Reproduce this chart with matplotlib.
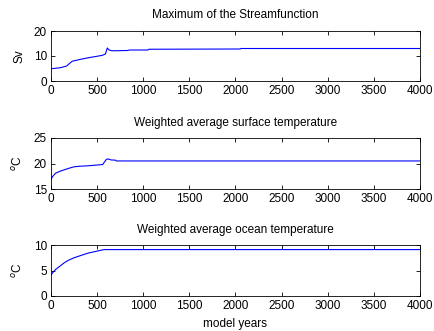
import numpy as np
from matplotlib import pyplot as plt

plt.rcParams['font.family'] = ['Liberation Sans', 'DejaVu Sans']

# maximum of the streamfunction (Sv)
psi_years = [0, 30, 100, 170, 200, 230, 300, 350, 420, 500, 560, 590, 600, 610, 630, 660, 700, 830, 850, 1050, 1060, 2050, 2060, 4000]
psi_vals = [5.0, 5.0, 5.3, 6.0, 7.0, 7.9, 8.5, 8.9, 9.4, 9.9, 10.3, 10.8, 12.0, 13.2, 12.4, 12.1, 12.1, 12.2, 12.4, 12.4, 12.7, 12.8, 13.0, 13.0]

# weighted average surface temperature (C)
sst_years = [0, 20, 50, 100, 150, 200, 250, 300, 400, 500, 560, 580, 600, 620, 650, 700, 710, 4000]
sst_vals = [16.9, 17.5, 18.1, 18.5, 18.8, 19.1, 19.35, 19.45, 19.55, 19.7, 19.8, 20.3, 20.8, 20.9, 20.7, 20.65, 20.5, 20.5]

# weighted average ocean temperature (C)
ocn_years = [0, 20, 50, 100, 150, 200, 250, 300, 400, 500, 560, 580, 4000]
ocn_vals = [4.1, 4.6, 5.2, 5.9, 6.6, 7.1, 7.5, 7.8, 8.4, 8.8, 9.05, 9.1, 9.1]

titles = ["Maximum of the Streamfunction",
          "Weighted average surface temperature",
          "Weighted average ocean temperature"]
ylabels = ["Sv", "$^o$C", "$^o$C"]
ylims = [(0, 20), (15, 25), (0, 10)]
yticks = [[0, 10, 20], [15, 20, 25], [0, 5, 10]]
xticks = [0, 500, 1000, 1500, 2000, 2500, 3000, 3500, 4000]

fig = plt.figure(figsize=(4.35, 3.31), dpi=100)
W, H = 435, 331
boxes = [(31, 81), (138, 189), (245, 296)]
data = [(psi_years, psi_vals), (sst_years, sst_vals), (ocn_years, ocn_vals)]

for i in range(3):
    top, bot = boxes[i]
    ax = fig.add_axes([51 / W, 1 - bot / H, (420 - 51) / W, (bot - top) / H])
    x, y = data[i]
    ax.plot(x, y, color='blue', lw=0.8)
    ax.set_xlim(0, 4000)
    ax.set_ylim(*ylims[i])
    ax.set_xticks(xticks)
    ax.set_yticks(yticks[i])
    ax.tick_params(direction='in', top=True, right=True, labelsize=8.5, length=3, width=0.6, pad=3)
    for s in ax.spines.values():
        s.set_linewidth(0.6)
    ax.set_title(titles[i], fontsize=8.5, pad=9)
    ax.set_ylabel(ylabels[i], fontsize=8.5, labelpad=6)
    if i == 2:
        ax.set_xlabel("model years", fontsize=8.5, labelpad=4)

fig.savefig("out.png", dpi=100)
